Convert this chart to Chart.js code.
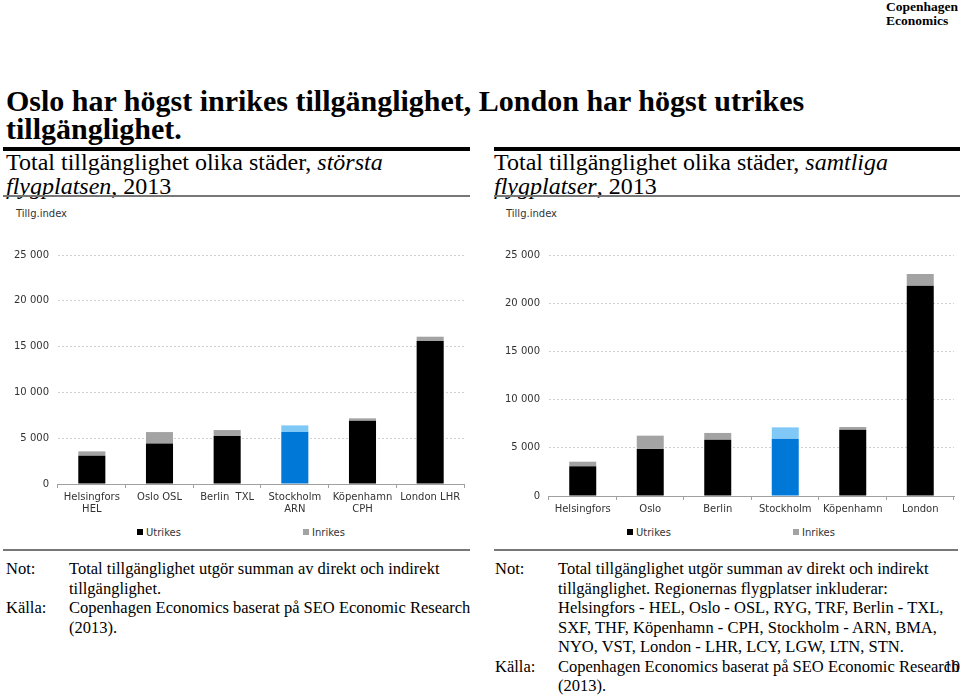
<!DOCTYPE html>
<html>
<head>
<meta charset="utf-8">
<script src="https://cdn.jsdelivr.net/npm/chart.js@4/dist/chart.umd.min.js"></script>
<style>
  body { margin: 0; background: #fff; }
  #page { position: relative; width: 960px; height: 695px; overflow: hidden; font-family: 'Liberation Serif', serif; color: #000; }
  .abs { position: absolute; white-space: nowrap; }
  .logo { right: 2px; top: 0px; font-weight: bold; font-size: 13.5px; line-height: 14px; }
  .title { left: 6px; top: 87px; font-weight: bold; font-size: 30px; line-height: 28px; }
  .heavy { height: 4px; background: #000; }
  .thin { height: 2px; background: #777; }
  .sub { font-size: 24px; line-height: 24px; top: 150px; }
  .axisname { font-family: 'DejaVu Sans', sans-serif; font-size: 10px; color: #333; top: 208px; }
  .legend { font-family: 'DejaVu Sans', sans-serif; font-size: 10px; color: #333; top: 527px; }
  .legend i { display: inline-block; width: 6px; height: 6px; margin-right: 3px; vertical-align: 1px; }
  .note { font-size: 16.5px; line-height: 19.5px; top: 559px; }
  .note td { padding: 0; vertical-align: top; white-space: nowrap; }
  .note td.k { width: 63px; }
</style>
</head>
<body>
<div id="page">
  <div class="abs logo">Copenhagen<br>Economics</div>
  <div class="abs title">Oslo har högst inrikes tillgänglighet, London har högst utrikes<br>tillgänglighet.</div>

  <div class="abs heavy" style="left:3px; top:147px; width:467px;"></div>
  <div class="abs heavy" style="left:494px; top:147px; width:466px;"></div>
  <div class="abs sub" style="left:6px;">Total tillgänglighet olika städer, <i>största</i><br><i>flygplatsen</i>, 2013</div>
  <div class="abs sub" style="left:494px;">Total tillgänglighet olika städer, <i>samtliga</i><br><i>flygplatser</i>, 2013</div>
  <div class="abs thin" style="left:3px; top:195px; width:467px;"></div>
  <div class="abs thin" style="left:494px; top:195px; width:466px;"></div>

  <div class="abs axisname" style="left:16px;">Tillg.index</div>
  <div class="abs axisname" style="left:506px;">Tillg.index</div>

  <div class="abs" style="left:0px; top:237px;"><canvas id="left" width="470" height="281"></canvas></div>
  <div class="abs" style="left:490px; top:237px;"><canvas id="right" width="470" height="281"></canvas></div>

  <div class="abs legend" style="left:137px;"><i id="lu"></i>Utrikes</div>
  <div class="abs legend" style="left:303px;"><i id="li"></i>Inrikes</div>
  <div class="abs legend" style="left:627px;"><i id="ru"></i>Utrikes</div>
  <div class="abs legend" style="left:793px;"><i id="ri"></i>Inrikes</div>

  <div class="abs thin" style="left:3px; top:549px; width:467px;"></div>
  <div class="abs thin" style="left:494px; top:549px; width:464px;"></div>

  <table class="abs note" style="left:6px;" cellspacing="0">
    <tr><td class="k">Not:</td><td>Total tillgänglighet utgör summan av direkt och indirekt<br>tillgänglighet.</td></tr>
    <tr><td class="k">Källa:</td><td>Copenhagen Economics baserat på SEO Economic Research<br>(2013).</td></tr>
  </table>
  <table class="abs note" style="left:495px;" cellspacing="0">
    <tr><td class="k">Not:</td><td>Total tillgänglighet utgör summan av direkt och indirekt<br>tillgänglighet. Regionernas flygplatser inkluderar:<br>Helsingfors - HEL, Oslo - OSL, RYG, TRF, Berlin - TXL,<br>SXF, THF, Köpenhamn - CPH, Stockholm - ARN, BMA,<br>NYO, VST, London - LHR, LCY, LGW, LTN, STN.</td></tr>
    <tr><td class="k">Källa:</td><td>Copenhagen Economics baserat på SEO Economic Research<br>(2013).</td></tr>
  </table>
  <div class="abs" style="left:944px; top:658px; font-size:16px;">10</div>
</div>

<script>
// data
const leftCats = [['Helsingfors', 'HEL'], 'Oslo OSL', 'Berlin  TXL', ['Stockholm', 'ARN'], ['Köpenhamn', 'CPH'], 'London LHR'];
const leftUtrikes = [3090, 4430, 5240, 5670, 6910, 15610];
const leftInrikes = [470, 1240, 650, 730, 260, 470];

const rightCats = ['Helsingfors', 'Oslo', 'Berlin', 'Stockholm', 'Köpenhamn', 'London'];
const rightUtrikes = [3080, 4880, 5840, 5950, 6880, 21820];
const rightInrikes = [480, 1380, 700, 1170, 280, 1210];

const yMax = 25000;
const yStep = 5000;
const highlight = 3; // Stockholm

const UT = '#000000', IN = '#a3a3a3', UT_HL = '#0078d7', IN_HL = '#80c9f7';

const fmt = v => String(v).replace(/\B(?=(\d{3})+(?!\d))/g, ' ');
const tickFont = { family: 'DejaVu Sans', size: 10 };

function colors(n, base, hl) {
  return Array.from({ length: n }, (_, i) => i === highlight ? hl : base);
}

function stackChart(id, labels, utrikes, inrikes, padLeft) {
  const el = document.getElementById(id);
  return new Chart(el.getContext('2d'), {
    type: 'bar',
    data: {
      labels,
      datasets: [
        { label: 'Utrikes', data: utrikes, backgroundColor: colors(labels.length, UT, UT_HL), borderWidth: 0, categoryPercentage: 1, barPercentage: 0.4 },
        { label: 'Inrikes', data: inrikes, backgroundColor: colors(labels.length, IN, IN_HL), borderWidth: 0, categoryPercentage: 1, barPercentage: 0.4 },
      ],
    },
    options: {
      responsive: false, animation: false,
      layout: { padding: { left: padLeft, right: 6, top: 18, bottom: 0 } },
      plugins: { legend: { display: false }, tooltip: { enabled: false } },
      scales: {
        x: {
          stacked: true,
          grid: { offset: true, drawOnChartArea: false, drawTicks: true, tickLength: 4, color: '#a0a0a0' },
          border: { display: true, color: '#a0a0a0' },
          ticks: { color: '#333', font: tickFont, padding: 3, maxRotation: 0, autoSkip: false },
        },
        y: {
          stacked: true, min: 0, max: yMax,
          grid: { drawTicks: false, color: '#d0d0d0', lineWidth: 1 },
          border: { display: false, dash: [2, 2] },
          ticks: { stepSize: yStep, color: '#333', font: tickFont, padding: 9, callback: fmt },
        },
      },
    },
  });
}

stackChart('left', leftCats, leftUtrikes, leftInrikes, 5);
stackChart('right', rightCats, rightUtrikes, rightInrikes, 6);

document.getElementById('lu').style.background = UT;
document.getElementById('ru').style.background = UT;
document.getElementById('li').style.background = IN;
document.getElementById('ri').style.background = IN;
</script>
</body>
</html>
